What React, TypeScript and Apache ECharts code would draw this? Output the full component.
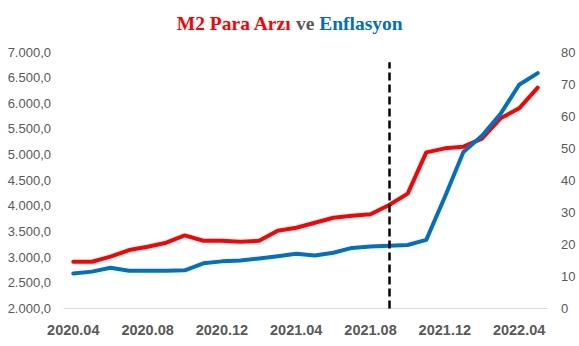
import React, { useEffect, useRef } from "react";
import * as echarts from "echarts";

const months = [
  "2020.04", "2020.05", "2020.06", "2020.07", "2020.08", "2020.09", "2020.10", "2020.11", "2020.12",
  "2021.01", "2021.02", "2021.03", "2021.04", "2021.05", "2021.06", "2021.07", "2021.08", "2021.09",
  "2021.10", "2021.11", "2021.12", "2022.01", "2022.02", "2022.03", "2022.04", "2022.05",
];

// M2 money supply (left axis)
const m2Supply = [
  2912, 2912, 3010, 3140, 3204, 3283, 3425, 3321, 3321,
  3302, 3321, 3516, 3575, 3672, 3770, 3809, 3836, 4017,
  4240, 5044, 5122, 5154, 5310, 5707, 5902, 6305,
];

// Annual inflation, % (right axis)
const inflation = [
  10.9, 11.5, 12.7, 11.8, 11.8, 11.8, 11.9, 14.1, 14.7,
  15.0, 15.6, 16.3, 17.1, 16.5, 17.4, 18.9, 19.3, 19.6,
  19.8, 21.4, 34.8, 48.8, 53.9, 60.7, 69.8, 73.4,
];

const leftMin = 2000;
const leftMax = 7000;
const leftStep = 500;
const rightMin = 0;
const rightMax = 80;
const rightStep = 10;

const markerMonth = "2021.09";
const markerTop = 6800;

const formatTr = (v: number) => {
  const s = Math.round(v).toString().replace(/\B(?=(\d{3})+(?!\d))/g, ".");
  return s + ",0";
};

export default function App() {
  const ref = useRef<HTMLDivElement>(null);

  useEffect(() => {
    document.body.style.margin = "0";
    if (!ref.current) return;
    const chart = echarts.init(ref.current, undefined, { renderer: "svg" });
    const labelFont = "'Liberation Sans', Arial, sans-serif";
    const serif = "'Liberation Serif', 'Times New Roman', serif";
    chart.setOption({
      animation: false,
      backgroundColor: "#ffffff",
      title: {
        text: "{a|M2 Para Arzı} {b|ve} {c|Enflasyon}",
        left: "center",
        top: 7,
        textStyle: {
          fontFamily: serif,
          fontSize: 19.5,
          fontWeight: "bold",
          rich: {
            a: { color: "#FF0000", fontSize: 19.5, fontWeight: "bold", fontFamily: serif, lineHeight: 22 },
            b: { color: "#595959", fontSize: 19.5, fontWeight: "bold", fontFamily: serif, lineHeight: 22 },
            c: { color: "#0070C0", fontSize: 19.5, fontWeight: "bold", fontFamily: serif, lineHeight: 22 },
          },
        },
      },
      grid: { left: 64, right: 32, top: 52, bottom: 37.5, containLabel: false },
      xAxis: {
        type: "category",
        data: months,
        boundaryGap: true,
        axisLine: { lineStyle: { color: "#D9D9D9", width: 1 } },
        axisTick: { show: false },
        axisLabel: {
          interval: 3,
          color: "#595959",
          fontSize: 14.5,
          fontWeight: "bold",
          fontFamily: labelFont,
          margin: 14,
        },
      },
      yAxis: [
        {
          type: "value",
          min: leftMin,
          max: leftMax,
          interval: leftStep,
          splitLine: { show: false },
          axisLine: { show: false },
          axisTick: { show: false },
          axisLabel: {
            color: "#595959",
            fontSize: 13,
            fontFamily: labelFont,
            margin: 13,
            formatter: (v: number) => formatTr(v),
          },
        },
        {
          type: "value",
          min: rightMin,
          max: rightMax,
          interval: rightStep,
          splitLine: { show: false },
          axisLine: { show: false },
          axisTick: { show: false },
          axisLabel: {
            color: "#595959",
            fontSize: 13,
            fontFamily: labelFont,
            margin: 14,
          },
        },
      ],
      series: [
        {
          name: "M2 Para Arzı",
          type: "line",
          yAxisIndex: 0,
          data: m2Supply,
          symbol: "none",
          lineStyle: { color: "#FF0000", width: 4, cap: "round", join: "round" },
          itemStyle: { color: "#FF0000" },
          z: 2,
          markLine: {
            silent: true,
            symbol: "none",
            label: { show: false },
            lineStyle: { color: "#000000", width: 2.5, type: [8, 4] },
            data: [[
              { coord: [markerMonth, leftMin] },
              { coord: [markerMonth, markerTop] },
            ]],
          },
        },
        {
          name: "Enflasyon",
          type: "line",
          yAxisIndex: 1,
          data: inflation,
          symbol: "none",
          lineStyle: { color: "#0070C0", width: 4, cap: "round", join: "round" },
          itemStyle: { color: "#0070C0" },
          z: 3,
        },
      ],
    });
    return () => chart.dispose();
  }, []);

  return <div ref={ref} style={{ width: 579, height: 346 }} />;
}
